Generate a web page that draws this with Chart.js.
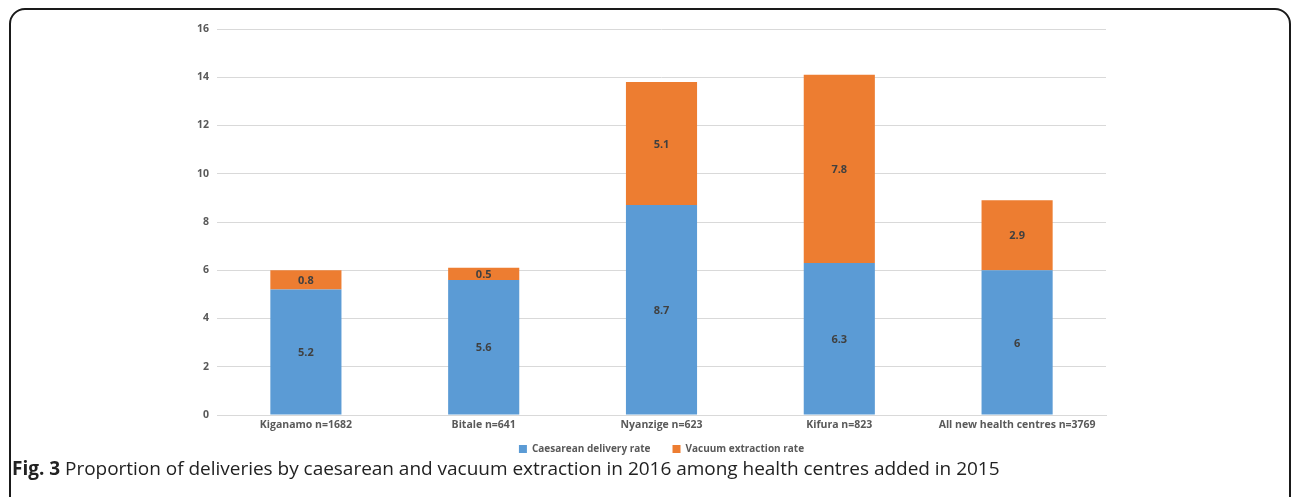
<!DOCTYPE html>
<html>
<head>
<meta charset="utf-8">
<script src="https://cdn.jsdelivr.net/npm/chart.js@4/dist/chart.umd.min.js"></script>
<style>
  html, body { margin: 0; padding: 0; background: #fff; }
  body { width: 1292px; height: 497px; position: relative; overflow: hidden; }
  #frame { position: absolute; left: 9px; top: 8px; width: 1282px; height: 520px;
           border: 2px solid #1a1a1a; border-radius: 16px; box-sizing: border-box; }
  #wrap { position: absolute; left: 0; top: 0; width: 1292px; height: 464px; }
  #caption { position: absolute; left: 12px; top: 455px; font-family: "Open Sans", sans-serif;
             font-size: 19px; color: #222; white-space: nowrap; letter-spacing: -0.02px; }
  #caption b { font-weight: 700; }
</style>
</head>
<body>
<div id="frame"></div>
<div id="wrap"><canvas id="c" width="1292" height="464"></canvas></div>
<div id="caption"><b>Fig. 3</b> Proportion of deliveries by caesarean and vacuum extraction in 2016 among health centres added in 2015</div>
<script>
const categories = ["Kiganamo n=1682", "Bitale n=641", "Nyanzige n=623", "Kifura n=823", "All new health centres n=3769"];
const caesareanRate = [5.2, 5.6, 8.7, 6.3, 6];
const vacuumRate = [0.8, 0.5, 5.1, 7.8, 2.9];
const yTicks = [0, 2, 4, 6, 8, 10, 12, 14, 16];

const labelPlugin = {
  id: 'segLabels',
  afterDatasetsDraw(chart) {
    const ctx = chart.ctx;
    ctx.save();
    ctx.font = 'bold 11px "Open Sans", sans-serif';
    ctx.fillStyle = '#404040';
    ctx.textAlign = 'center';
    ctx.textBaseline = 'middle';
    chart.data.datasets.forEach((ds, di) => {
      const meta = chart.getDatasetMeta(di);
      meta.data.forEach((bar, i) => {
        const p = bar.getProps(['x', 'y', 'base'], true);
        ctx.fillText(String(ds.data[i]), p.x, (p.y + p.base) / 2 + 1);
      });
    });
    ctx.restore();
  }
};

new Chart(document.getElementById('c'), {
  type: 'bar',
  data: {
    labels: categories,
    datasets: [
      { label: 'Caesarean delivery rate', data: caesareanRate, backgroundColor: '#5B9BD5', borderWidth: 0 },
      { label: 'Vacuum extraction rate', data: vacuumRate, backgroundColor: '#ED7D31', borderWidth: 0 }
    ]
  },
  options: {
    responsive: false,
    animation: false,
    devicePixelRatio: 1,
    layout: { padding: { top: 29, right: 186, left: 0, bottom: 0 } },
    datasets: { bar: { categoryPercentage: 1, barPercentage: 0.4 } },
    plugins: {
      legend: {
        position: 'bottom',
        fullSize: false,
        title: { display: true, text: '', font: { size: 10 }, padding: { top: -27, bottom: 0 } },
        labels: { boxWidth: 8, boxHeight: 8, padding: 22, color: '#595959',
                  font: { family: '"Open Sans", sans-serif', size: 10, weight: 'bold' } }
      },
      tooltip: { enabled: false },
      title: { display: false }
    },
    scales: {
      x: {
        stacked: true,
        grid: { display: false, drawTicks: false },
        border: { color: '#D9D9D9', width: 1 },
        ticks: { color: '#595959', padding: 4, maxRotation: 0, autoSkip: false,
                 font: { family: '"Open Sans", sans-serif', size: 10.5, weight: 'bold' } },
        afterFit(s) { s.height = 22; }
      },
      y: {
        stacked: true,
        min: 0, max: 16,
        afterBuildTicks(s) { s.ticks = yTicks.map(v => ({ value: v })); },
        grid: { color: '#D9D9D9', drawTicks: false },
        border: { display: false },
        ticks: { color: '#595959', padding: 8,
                 font: { family: '"Open Sans", sans-serif', size: 10.5, weight: 'bold' } },
        afterFit(s) { s.width = 217; }
      }
    }
  },
  plugins: [labelPlugin]
});
</script>
</body>
</html>
